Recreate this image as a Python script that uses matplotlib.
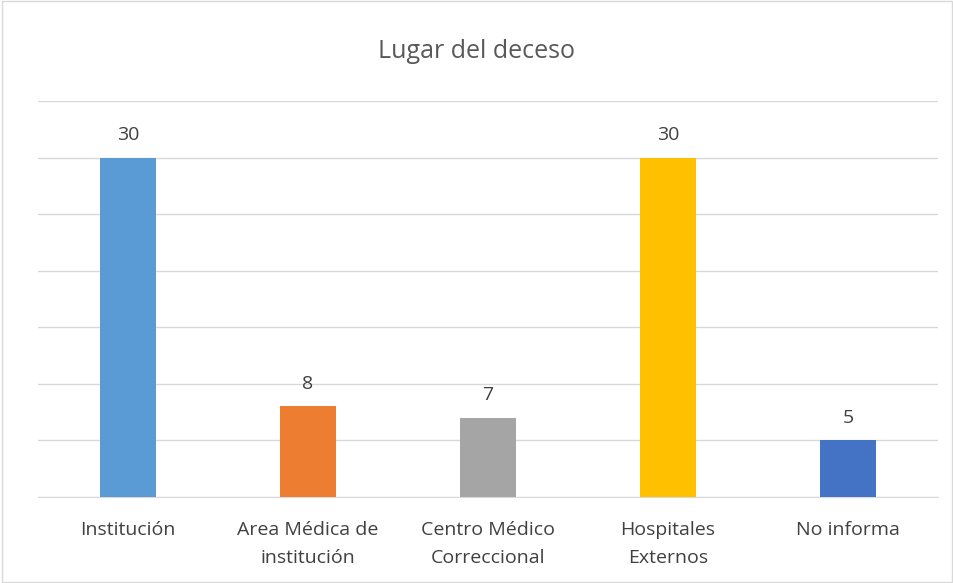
import matplotlib
matplotlib.use("Agg")
import matplotlib.pyplot as plt
from matplotlib.patches import Rectangle

# data
categories = ["Institución", "Area Médica de\ninstitución", "Centro Médico\nCorreccional",
              "Hospitales\nExternos", "No informa"]
values = [30, 8, 7, 30, 5]
colors = ["#5B9BD5", "#ED7D31", "#A5A5A5", "#FFC000", "#4472C4"]

plt.rcParams['font.family'] = ['Open Sans', 'DejaVu Sans']
text_color = "#404040"

fig = plt.figure(figsize=(9.54, 5.83), dpi=100)
ax = fig.add_axes([38 / 954, 86 / 583, 900 / 954, 396 / 583])

x = list(range(len(categories)))
bars = ax.bar(x, values, width=0.31, color=colors, zorder=3)

for b, v in zip(bars, values):
    ax.annotate(str(v), (b.get_x() + b.get_width() / 2, v), xytext=(0, 10),
                textcoords="offset points", ha="center", va="bottom",
                fontsize=14, color=text_color)

ax.set_xlim(-0.5, len(categories) - 0.5)
ax.set_ylim(0, 35)
ax.set_yticks(range(0, 36, 5))
ax.yaxis.grid(True, color="#D9D9D9", linewidth=1, zorder=0)
ax.tick_params(axis="y", left=False, labelleft=False)
ax.tick_params(axis="x", length=0, pad=17, labelsize=14, labelcolor=text_color)
ax.set_xticks(x)
ax.set_xticklabels(categories, linespacing=1.75)
for s in ["top", "right", "left"]:
    ax.spines[s].set_visible(False)
ax.spines["bottom"].set_color("#D9D9D9")

fig.text(0.5, 1 - 52 / 583, "Lugar del deceso", ha="center", va="center",
         fontsize=18, color="#595959")

# thin border round the chart area
fig.patches.append(Rectangle((0.002, 0.002), 0.996, 0.996, transform=fig.transFigure,
                             fill=False, edgecolor="#D9D9D9", linewidth=1))

fig.savefig("out.png", dpi=100)
